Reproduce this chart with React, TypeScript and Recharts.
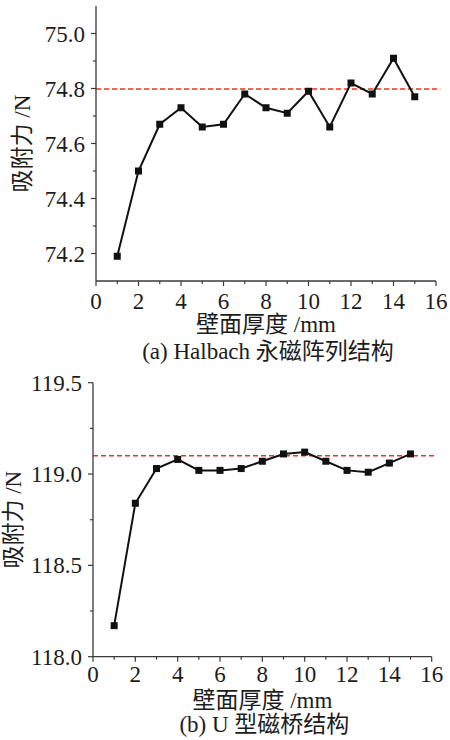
import React from 'react';
import { LineChart, Line, XAxis, YAxis, ReferenceLine } from 'recharts';

const thickness = [1, 2, 3, 4, 5, 6, 7, 8, 9, 10, 11, 12, 13, 14, 15];
const halbachForce = [74.19, 74.50, 74.67, 74.73, 74.66, 74.67, 74.78, 74.73, 74.71, 74.79, 74.66, 74.82, 74.78, 74.91, 74.77];
const uBridgeForce = [118.17, 118.84, 119.03, 119.08, 119.02, 119.02, 119.03, 119.07, 119.11, 119.12, 119.07, 119.02, 119.01, 119.06, 119.11];

const xTicks = [0, 1, 2, 3, 4, 5, 6, 7, 8, 9, 10, 11, 12, 13, 14, 15, 16];
const yTicksA = [74.2, 74.3, 74.4, 74.5, 74.6, 74.7, 74.8, 74.9, 75.0];
const yMajorA = [74.2, 74.4, 74.6, 74.8, 75.0];
const yTicksB = [118.0, 118.25, 118.5, 118.75, 119.0, 119.25, 119.5];
const yMajorB = [118.0, 118.5, 119.0, 119.5];

const refA = 74.798;
const refB = 119.1;

const yLabel = '吸附力 /N';
const xLabel = '壁面厚度 /mm';
const captionA = '(a) Halbach 永磁阵列结构';
const captionB = '(b) U 型磁桥结构';

const FONT = 'Liberation Serif, Noto Sans CJK SC, serif';
const TEXT = '#1c1c1c';
const AXIS = '#3a3a3a';

const dataA = thickness.map((t, i) => ({ t, v: halbachForce[i] }));
const dataB = thickness.map((t, i) => ({ t, v: uBridgeForce[i] }));

const txtStyle = { fontFamily: FONT };

function XTick(props: any) {
  const { x, y, payload, labelDy } = props;
  const major = payload.value % 2 === 0;
  return (
    <g>
      <line x1={x} x2={x} y1={y} y2={y + (major ? 5 : 3)} stroke={AXIS} strokeWidth={1.2} />
      {major && (
        <text x={x} y={y + labelDy} textAnchor="middle" dy="0.35em" style={txtStyle} fontSize={23} fill={TEXT}>
          {payload.value}
        </text>
      )}
    </g>
  );
}

function YTick(props: any) {
  const { x, y, payload, majors, digits } = props;
  const major = majors.some((m: number) => Math.abs(m - payload.value) < 1e-6);
  return (
    <g>
      <line x1={x - (major ? 5 : 3)} x2={x} y1={y} y2={y} stroke={AXIS} strokeWidth={1.2} />
      {major && (
        <text x={x - 11} y={y} textAnchor="end" dy="0.35em" style={txtStyle} fontSize={23} fill={TEXT}>
          {payload.value.toFixed(digits)}
        </text>
      )}
    </g>
  );
}

const squareDot = (p: any) => (
  <rect key={`d-${p.index}`} x={p.cx - 3.5} y={p.cy - 3.5} width={7} height={7} fill="#111" />
);

function Panel(props: any) {
  const { data, domain, ticks, majors, digits, ref, caption, margin, yWidth, xHeight, tickDy, yLabelX, titleDy, capDy } = props;
  return (
    <LineChart width={450} height={370} data={data} margin={margin} style={txtStyle}>
      <XAxis
        dataKey="t"
        type="number"
        domain={[0, 16]}
        ticks={xTicks}
        interval={0}
        allowDataOverflow
        height={xHeight}
        tickSize={0}
        tickMargin={0}
        tickLine={false}
        axisLine={{ stroke: AXIS, strokeWidth: 1.3 }}
        tick={(p: any) => <XTick {...p} labelDy={tickDy} />}
        label={{
          content: ({ viewBox }: any) => {
            const cx = viewBox.x + viewBox.width / 2;
            return (
              <g>
                <text x={cx} y={viewBox.y + titleDy} textAnchor="middle" dy="0.35em" style={txtStyle} fontSize={23} fill={TEXT}>
                  {xLabel}
                </text>
                <text x={cx + 2} y={viewBox.y + capDy} textAnchor="middle" dy="0.35em" style={txtStyle} fontSize={23} fill={TEXT}>
                  {caption}
                </text>
              </g>
            );
          },
        }}
      />
      <YAxis
        type="number"
        domain={domain}
        ticks={ticks}
        interval={0}
        allowDataOverflow
        width={yWidth}
        tickSize={0}
        tickMargin={0}
        tickLine={false}
        axisLine={{ stroke: AXIS, strokeWidth: 1.3 }}
        tick={(p: any) => <YTick {...p} majors={majors} digits={digits} />}
        label={{
          content: ({ viewBox }: any) => {
            const cy = viewBox.y + viewBox.height / 2;
            return (
              <text x={yLabelX} y={cy} textAnchor="middle" dy="0.35em" style={txtStyle} fontSize={23} fill={TEXT} transform={`rotate(-90 ${yLabelX} ${cy})`}>
                {yLabel}
              </text>
            );
          },
        }}
      />
      <ReferenceLine
        segment={[{ x: 0, y: ref }, { x: 16.2, y: ref }]}
        ifOverflow="visible"
        stroke="#f03030"
        strokeWidth={1.4}
        strokeDasharray="5 3"
      />
      <Line type="linear" dataKey="v" stroke="#111" strokeWidth={2} dot={squareDot} activeDot={false} isAnimationActive={false} />
    </LineChart>
  );
}

export default function App() {
  return (
    <div style={{ position: 'absolute', left: 0, top: 0, width: 450, height: 740, background: '#fff', fontFamily: FONT }}>
      <Panel
        data={dataA}
        domain={[74.1, 75.1]}
        ticks={yTicksA}
        majors={yMajorA}
        digits={1}
        ref={refA}
        caption={captionA}
        margin={{ top: 6, right: 14, bottom: 0, left: 0 }}
        yWidth={96}
        xHeight={89}
        tickDy={20}
        yLabelX={22}
        titleDy={43}
        capDy={70}
      />
      <Panel
        data={dataB}
        domain={[118.0, 119.5]}
        ticks={yTicksB}
        majors={yMajorB}
        digits={1}
        ref={refB}
        caption={captionB}
        margin={{ top: 12.7, right: 18.3, bottom: 0, left: 0 }}
        yWidth={93}
        xHeight={83.3}
        tickDy={17.5}
        yLabelX={12.5}
        titleDy={43.3}
        capDy={67.3}
      />
    </div>
  );
}
